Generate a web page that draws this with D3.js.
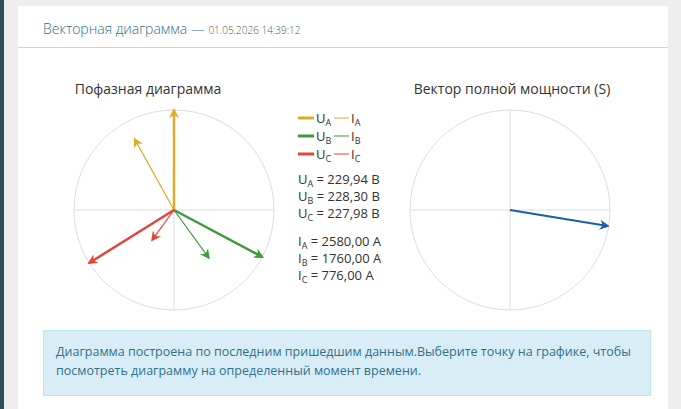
<!DOCTYPE html><html><head><meta charset="utf-8">
<script src="https://cdn.jsdelivr.net/npm/d3@7"></script>
<style>
body{margin:0;background:#eeeeee;font-family:"Open Sans",sans-serif;width:681px;height:409px;overflow:hidden;position:relative}
#lb{position:absolute;left:0;top:0;width:4px;height:409px;background:#2f4f5a}
#card{position:absolute;left:18px;top:6px;width:650px;height:410px;background:#fff}
#hd{position:absolute;left:25px;top:13px;font-size:14px;color:#31708f;font-weight:300}
#hd small{font-size:10px;color:#555}
#ln{position:absolute;left:0;top:41px;width:650px;height:1px;background:#b7dbe8}
#info{position:absolute;left:25px;top:324px;width:582px;height:42px;padding:11px 12px;background:#d9edf7;border:1px solid #bce8f1;color:#31708f;font-size:12.5px;line-height:19px}
svg{position:absolute;left:0;top:0}
</style></head><body>
<div id="lb"></div>
<div id="card"><div id="hd">Векторная диаграмма — <small>01.05.2026 14:39:12</small></div><div id="ln"></div>
<div id="info">Диаграмма построена по последним пришедшим данным.Выберите точку на графике, чтобы посмотреть диаграмму на определенный момент времени.</div></div>
<svg id="s" width="681" height="409"></svg>
<script>
const phases=["A","B","C"];
const colors=["#e0aa2a","#3d9a3d","#e0463a"];
const uAngles=[90,-28,212];
const uMag=[229.94,228.30,227.98];
const iAngles=[119,-54,234];
const iMag=[2580,1760,776];
const iRel=[0.81,0.59,0.37];
const sAngle=-9.3, sRel=0.99;
const svg=d3.select("#s");
const R=100;
const r=d3.scaleLinear().domain([0,1]).range([0,R]);
const defs=svg.append("defs");
colors.concat(["#1a5fa8"]).forEach((c,i)=>{defs.append("marker").attr("id","m"+i).attr("viewBox","0 0 10 10").attr("refX",8).attr("refY",5).attr("markerUnits","userSpaceOnUse").attr("orient","auto").attr("markerWidth",10).attr("markerHeight",10).append("path").attr("d","M0,0L10,5L0,10L3,5Z").attr("fill",c);});
function circ(cx,cy,tx,title){
  const g=svg.append("g").attr("transform",`translate(${cx},${cy})`);
  g.append("circle").attr("r",R).attr("fill","none").attr("stroke","#ddd");
  g.append("line").attr("x1",-R).attr("x2",R).attr("stroke","#ddd");
  g.append("line").attr("y1",-R).attr("y2",R).attr("stroke","#ddd");
  svg.append("text").attr("x",tx).attr("y",94).attr("text-anchor","middle").attr("font-size",14).attr("fill","#333").text(title);
  return g;
}
function vec(g,ang,len,c,w,mi){
  const a=ang*Math.PI/180;
  g.append("line").attr("x1",0).attr("y1",0).attr("x2",r(len)*Math.cos(a)).attr("y2",-r(len)*Math.sin(a)).attr("stroke",c).attr("stroke-width",w).attr("marker-end",`url(#m${mi})`);
}
const g1=circ(174,210,148,"Пофазная диаграмма");
phases.forEach((p,i)=>{vec(g1,uAngles[i],1,colors[i],2.5,i);vec(g1,iAngles[i],iRel[i],colors[i],1.2,i);});
const g2=circ(510,210,512,"Вектор полной мощности (S)");
vec(g2,sAngle,sRel,"#1a5fa8",2.2,3);
const fs=13;
phases.forEach((p,i)=>{
  const y=118+i*18;
  svg.append("line").attr("x1",298).attr("x2",314).attr("y1",y).attr("y2",y).attr("stroke",colors[i]).attr("stroke-width",3);
  svg.append("line").attr("x1",334).attr("x2",349).attr("y1",y).attr("y2",y).attr("stroke",colors[i]).attr("stroke-width",2).attr("opacity",0.5);
  const t=svg.append("text").attr("x",316).attr("y",y+5).attr("font-size",fs).attr("fill","#333");
  t.append("tspan").text("U");t.append("tspan").attr("font-size",9).attr("dy",3).text(p);
  const t2=svg.append("text").attr("x",351).attr("y",y+5).attr("font-size",fs).attr("fill","#333");
  t2.append("tspan").text("I");t2.append("tspan").attr("font-size",9).attr("dy",3).text(p);
});
const fmt=v=>v.toFixed(2).replace(".",",");
phases.forEach((p,i)=>{
  const t=svg.append("text").attr("x",298).attr("y",184+i*17).attr("font-size",fs).attr("fill","#333");
  t.append("tspan").text("U");t.append("tspan").attr("font-size",9).attr("dy",3).text(p);
  t.append("tspan").attr("dy",-3).text(" = "+fmt(uMag[i])+" B");
  const t2=svg.append("text").attr("x",298).attr("y",246+i*17).attr("font-size",fs).attr("fill","#333");
  t2.append("tspan").text("I");t2.append("tspan").attr("font-size",9).attr("dy",3).text(p);
  t2.append("tspan").attr("dy",-3).text(" = "+fmt(iMag[i])+" A");
});
</script></body></html>
